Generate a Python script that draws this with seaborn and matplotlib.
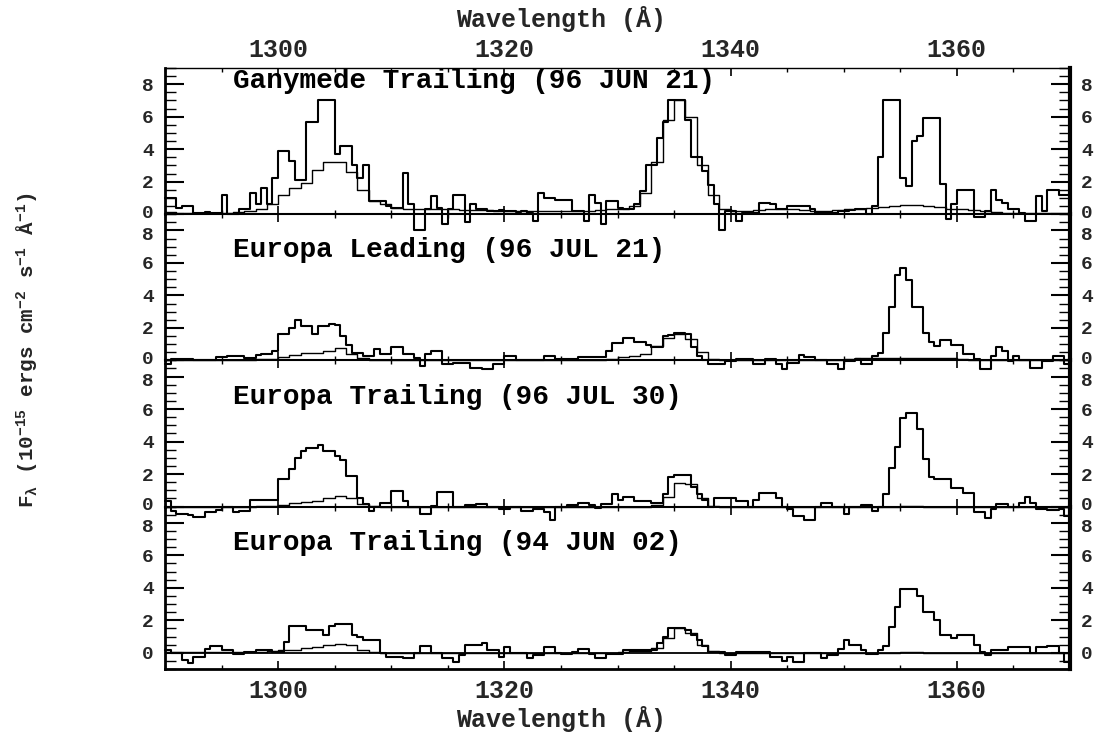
import numpy as np
import pandas as pd
import matplotlib
matplotlib.use("Agg")
import matplotlib.pyplot as plt
import matplotlib.transforms as mtransforms
from matplotlib.ticker import MultipleLocator, FixedLocator
import seaborn as sns

# ---------------- data ----------------
data_start = 1290.0     # first bin edge of observed spectra (Angstrom)
data_bin = 0.5          # bin width of observed spectra
model_start = 1290.0
model_bin = 1.0

panel_titles = [
    "Ganymede Trailing (96 JUN 21)",
    "Europa Leading (96 JUL 21)",
    "Europa Trailing (96 JUL 30)",
    "Europa Trailing (94 JUN 02)",
]

ganymede_trailing_96jun21 = [
    1.0, 1.0, 0.4, 0.5, 0.5, 0.1, 0.1, 0.15, 0.1, 0.1,
    1.2, 0.0, 0.0, 0.3, 0.3, 1.3, 0.6, 1.6, 0.65, 2.25,
    3.9, 3.9, 3.3, 2.1, 2.1, 5.7, 5.7, 7.05, 7.05, 7.05,
    3.7, 4.2, 4.2, 3.0, 2.25, 3.0, 0.8, 0.8, 0.8, 0.5,
    0.4, 0.4, 2.55, 0.6, -1.0, -1.0, 0.3, 1.1, 0.4, -0.6,
    0.3, 1.2, 1.2, -0.5, 0.6, 0.3, 0.3, 0.2, 0.2, 0.25,
    0.2, 0.2, 0.15, 0.2, 0.1, -0.4, 1.3, 1.0, 1.0, 0.9,
    0.9, 0.9, 0.2, 0.2, -0.4, 1.2, 0.7, -0.6, 0.8, 0.8,
    0.4, 0.3, 0.3, 0.6, 1.4, 3.0, 3.0, 4.7, 5.7, 7.0,
    7.05, 7.0, 5.8, 3.5, 3.5, 2.65, 1.8, 0.6, -1.0, 0.2,
    0.2, -0.4, 0.1, 0.1, 0.1, 0.7, 0.7, 0.6, 0.3, 0.3,
    0.5, 0.5, 0.5, 0.5, 0.3, 0.1, 0.1, 0.1, 0.1, 0.2,
    0.2, 0.25, 0.3, 0.3, 0.0, 0.5, 3.5, 7.05, 7.05, 7.05,
    2.25, 1.75, 4.5, 4.8, 5.9, 5.9, 5.9, 1.85, -0.3, 0.6,
    1.5, 1.5, 1.5, -0.2, -0.2, 0.2, 1.5, 0.9, 0.7, 0.3,
    0.3, 0.1, -0.4, -0.4, 1.1, 0.2, 1.5, 1.5, 1.2, 1.2,
]
ganymede_trailing_model = [
    0.15, 0.1, 0.1, 0.1, 0.1, 0.1, 0.15, 0.2, 0.3, 0.6,
    1.2, 1.6, 1.9, 2.7, 3.2, 3.2, 2.6, 1.5, 0.8, 0.6,
    0.4, 0.35, 0.3, 0.3, 0.3, 0.3, 0.25, 0.25, 0.25, 0.2,
    0.2, 0.2, 0.2, 0.2, 0.2, 0.2, 0.2, 0.2, 0.25, 0.3,
    0.3, 0.5, 1.3, 3.2, 5.8, 7.0, 6.0, 3.0, 1.2, 0.3,
    0.2, 0.2, 0.25, 0.3, 0.3, 0.3, 0.25, 0.2, 0.2, 0.25,
    0.3, 0.35, 0.4, 0.45, 0.5, 0.55, 0.55, 0.5, 0.45, 0.35,
    0.3, 0.25, 0.2, 0.15, 0.1, 0.05, 0.05, 0.05, 0.05, 0.05,
]

europa_leading_96jul21 = [
    -0.2, 0.1, 0.1, 0.1, 0.1, 0.05, 0.05, 0.05, 0.05, 0.2,
    0.2, 0.3, 0.3, 0.3, 0.15, 0.15, 0.35, 0.4, 0.4, 0.55,
    1.6, 1.6, 2.0, 2.5, 2.1, 2.1, 1.65, 2.1, 2.1, 2.25,
    2.2, 1.5, 0.95, 0.45, 0.45, 0.3, 0.3, 0.7, 0.4, 0.4,
    0.8, 0.8, 0.4, 0.4, 0.15, -0.35, 0.4, 0.55, 0.55, -0.25,
    -0.25, -0.15, -0.15, -0.15, -0.45, -0.45, -0.55, -0.55, -0.25, -0.25,
    0.25, 0.25, 0.0, 0.0, 0.0, 0.0, 0.0, 0.3, 0.3, 0.1,
    0.1, 0.1, 0.1, 0.2, 0.2, 0.2, 0.2, 0.2, 0.55, 1.05,
    1.05, 1.35, 1.35, 1.15, 1.15, 0.95, 0.85, 0.85, 1.5, 1.55,
    1.7, 1.7, 1.6, 0.85, 0.25, 0.0, -0.2, -0.2, -0.2, -0.05,
    -0.05, 0.1, 0.1, 0.1, -0.2, -0.2, 0.1, 0.1, -0.2, -0.55,
    -0.15, -0.15, 0.35, 0.2, 0.2, 0.0, 0.0, -0.2, -0.2, -0.55,
    -0.05, -0.05, 0.1, -0.25, -0.25, 0.25, 0.45, 1.7, 3.3, 5.25,
    5.7, 4.95, 3.3, 3.3, 1.7, 1.15, 0.9, 1.25, 1.25, 0.95,
    0.95, 0.4, 0.4, 0.1, -0.55, -0.55, 0.25, 0.85, 0.55, -0.05,
    0.25, 0.0, 0.0, -0.45, -0.45, -0.05, -0.05, 0.25, 0.25, -0.25,
]
europa_leading_model = [
    0.05, 0.05, 0.05, 0.05, 0.05, 0.05, 0.05, 0.05, 0.1, 0.1,
    0.2, 0.35, 0.45, 0.45, 0.6, 0.75, 0.4, 0.15, 0.05, 0.05,
    0.05, 0.05, 0.05, 0.05, 0.05, 0.05, 0.05, 0.05, 0.05, 0.05,
    0.05, 0.05, 0.05, 0.05, 0.05, 0.05, 0.05, 0.05, 0.05, 0.1,
    0.2, 0.3, 0.4, 0.9, 1.4, 1.6, 1.3, 0.5, 0.1, 0.05,
    0.05, 0.05, 0.05, 0.05, 0.05, 0.05, 0.05, 0.05, 0.05, 0.05,
    0.1, 0.15, 0.15, 0.15, 0.15, 0.15, 0.15, 0.15, 0.15, 0.15,
    0.1, 0.05, 0.0, 0.0, 0.0, 0.0, 0.0, 0.0, 0.0, 0.0,
]

europa_trailing_96jul30 = [
    0.35, -0.25, -0.45, -0.45, -0.5, -0.65, -0.65, -0.35, -0.35, -0.2,
    -0.05, -0.05, -0.35, -0.25, -0.25, 0.4, 0.4, 0.4, 0.4, 0.4,
    1.7, 1.7, 2.3, 3.0, 3.45, 3.6, 3.6, 3.8, 3.45, 3.45,
    3.1, 2.85, 1.9, 1.9, 0.55, 0.15, -0.25, -0.05, 0.2, 0.2,
    0.95, 0.95, 0.35, -0.05, -0.05, -0.45, -0.45, 0.05, 0.9, 0.9,
    0.9, -0.05, -0.05, 0.1, 0.1, 0.15, 0.15, -0.05, -0.05, -0.15,
    -0.15, -0.05, -0.05, -0.25, -0.25, -0.15, -0.15, -0.35, -0.85, -0.05,
    -0.05, 0.1, 0.1, 0.2, 0.2, 0.1, -0.1, 0.15, 0.15, 0.8,
    0.4, 0.6, 0.6, 0.35, 0.35, 0.35, 0.25, 0.25, 0.8, 1.8,
    1.95, 1.95, 1.95, 1.2, 0.75, 0.4, 0.0, 0.55, 0.55, 0.5,
    0.5, 0.35, 0.35, -0.05, 0.4, 0.85, 0.85, 0.85, 0.55, 0.0,
    -0.15, -0.55, -0.55, -0.85, -0.85, -0.05, 0.25, 0.25, 0.0, 0.0,
    -0.45, -0.05, -0.05, 0.1, 0.1, -0.25, 0.0, 0.75, 2.4, 3.65,
    5.45, 5.75, 5.75, 4.75, 2.9, 1.8, 1.7, 1.7, 1.7, 1.15,
    1.15, 0.85, 0.85, -0.35, -0.35, -0.7, -0.15, 0.15, 0.15, 0.0,
    0.0, 0.2, 0.6, 0.25, -0.15, -0.15, -0.2, -0.2, -0.15, -0.55,
]
europa_trailing_96_model = [
    0.0, 0.0, 0.0, 0.0, 0.0, 0.0, 0.0, 0.0, 0.02, 0.05,
    0.1, 0.25, 0.3, 0.35, 0.5, 0.65, 0.5, 0.15, 0.02, 0.0,
    0.0, 0.0, 0.0, 0.0, 0.0, 0.0, 0.0, 0.0, 0.0, 0.0,
    0.0, 0.0, 0.0, 0.0, 0.0, 0.0, 0.0, 0.0, 0.0, 0.0,
    0.0, 0.0, 0.0, 0.1, 0.6, 1.45, 1.4, 0.5, 0.05, 0.0,
    0.0, 0.0, 0.0, 0.0, 0.0, 0.0, 0.0, 0.0, 0.0, 0.0,
    0.0, 0.0, 0.0, 0.0, 0.0, 0.05, 0.05, 0.0, 0.0, 0.0,
    0.0, 0.0, 0.0, 0.0, 0.0, 0.0, 0.0, 0.0, 0.0, 0.0,
]

europa_trailing_94jun02 = [
    0.2, 0.0, 0.0, -0.45, -0.6, -0.25, -0.25, 0.25, 0.4, 0.4,
    0.15, 0.15, -0.1, -0.1, 0.05, 0.05, 0.15, 0.15, 0.15, 0.05,
    0.05, 0.65, 1.65, 1.65, 1.65, 1.4, 1.4, 1.4, 1.1, 1.65,
    1.8, 1.8, 1.8, 1.1, 0.95, 0.8, 0.8, 0.8, 0.0, -0.25,
    -0.25, -0.25, -0.35, -0.35, 0.0, 0.4, 0.4, 0.0, 0.0, -0.35,
    -0.35, -0.55, -0.15, 0.45, 0.45, 0.45, 0.6, 0.15, 0.15, -0.25,
    0.35, 0.0, 0.0, 0.0, -0.35, -0.15, -0.15, 0.35, 0.35, 0.0,
    -0.1, -0.1, 0.05, 0.25, 0.25, -0.1, -0.35, -0.35, -0.05, -0.05,
    -0.05, 0.15, 0.15, 0.15, 0.15, 0.15, 0.15, 0.6, 1.0, 1.55,
    1.55, 1.5, 1.4, 1.1, 0.8, 0.4, 0.05, 0.05, 0.05, -0.15,
    -0.15, 0.05, 0.05, 0.05, 0.05, 0.05, 0.05, -0.25, -0.25, -0.5,
    -0.25, -0.55, -0.55, 0.0, 0.0, 0.0, -0.3, -0.15, -0.15, 0.25,
    0.8, 0.45, 0.45, 0.15, -0.1, -0.1, 0.15, 0.4, 1.6, 2.8,
    3.9, 3.9, 3.9, 3.5, 2.5, 2.5, 2.0, 1.1, 1.1, 0.9,
    1.1, 1.1, 1.1, 0.45, 0.05, -0.15, 0.15, 0.15, 0.15, 0.35,
    0.35, 0.35, 0.35, 0.0, 0.35, 0.35, 0.4, 0.4, 0.0, -0.55,
]
europa_trailing_94_model = [
    0.05, 0.05, 0.05, 0.05, 0.05, 0.05, 0.05, 0.05, 0.05, 0.1,
    0.15, 0.2, 0.3, 0.35, 0.45, 0.55, 0.45, 0.2, 0.05, 0.0,
    0.0, 0.0, 0.0, 0.0, 0.0, 0.0, 0.0, 0.0, 0.0, 0.0,
    0.0, 0.0, 0.0, 0.0, 0.0, 0.0, 0.0, 0.0, 0.0, 0.0,
    0.05, 0.1, 0.1, 0.3, 0.9, 1.5, 1.2, 0.5, 0.1, 0.0,
    0.0, 0.0, 0.0, 0.0, 0.0, 0.0, 0.0, 0.0, 0.0, 0.0,
    0.0, 0.0, 0.0, 0.0, 0.0, 0.05, 0.05, 0.0, 0.0, 0.0,
    0.0, 0.0, 0.0, 0.0, 0.0, 0.0, 0.0, 0.0, 0.0, 0.0,
]

observed = [ganymede_trailing_96jun21, europa_leading_96jul21,
            europa_trailing_96jul30, europa_trailing_94jun02]
models = [ganymede_trailing_model, europa_leading_model,
          europa_trailing_96_model, europa_trailing_94_model]

x_major_ticks = [1300, 1320, 1340, 1360]
y_major_ticks = [0, 2, 4, 6, 8]

# ---------------- style ----------------
sns.set_style("white")
plt.rcParams["font.family"] = ["Liberation Mono", "DejaVu Sans"]
plt.rcParams["font.weight"] = "bold"
plt.rcParams["mathtext.fontset"] = "custom"
plt.rcParams["mathtext.rm"] = "Liberation Mono:bold"
plt.rcParams["mathtext.it"] = "Liberation Mono:bold"
plt.rcParams["mathtext.bf"] = "Liberation Mono:bold"
plt.rcParams["mathtext.fallback"] = "stixsans"


def step_frame(values, start, width):
    vals = np.asarray(values, dtype=float)
    edges = start + width * np.arange(len(vals) + 1)
    return pd.DataFrame({"wavelength": edges, "flux": np.append(vals, vals[-1])})


W, H = 1099, 733
fig = plt.figure(figsize=(W / 100, H / 100), dpi=100)
fig.patch.set_facecolor("white")

left_px, right_px, top_px, bottom_px = 165, 1070, 68, 669
panel_units = [9, 9, 9, 10]
ylims = [(0, 9), (0, 9), (0, 9), (-1, 9)]
title_y = [8.2, 6.8, 6.75, 6.75]
unit_px = (bottom_px - top_px) / sum(panel_units)

y_cursor = top_px
axes = []
for i in range(4):
    h = panel_units[i] * unit_px
    ax = fig.add_axes([left_px / W, 1 - (y_cursor + h) / H,
                       (right_px - left_px) / W, h / H])
    y_cursor += h
    ax.patch.set_visible(False)
    axes.append(ax)

for i, ax in enumerate(axes):
    dfo = step_frame(observed[i], data_start, data_bin)
    dfm = step_frame(models[i], model_start, model_bin)
    sns.lineplot(data=dfm, x="wavelength", y="flux", drawstyle="steps-post",
                 color="black", lw=1.0, estimator=None, sort=False, ax=ax,
                 clip_on=False)
    sns.lineplot(data=dfo, x="wavelength", y="flux", drawstyle="steps-post",
                 color="black", lw=1.5, estimator=None, sort=False, ax=ax,
                 clip_on=False)
    ax.set_xlim(1290, 1370)
    ax.set_ylim(*ylims[i])
    ax.set_xlabel("")
    ax.set_ylabel("")
    if i == 3:
        ax.axhline(0, color="black", lw=1.3)

    ax.xaxis.set_major_locator(FixedLocator(x_major_ticks))
    ax.xaxis.set_minor_locator(MultipleLocator(5))
    ax.yaxis.set_major_locator(FixedLocator(y_major_ticks))
    ax.yaxis.set_minor_locator(MultipleLocator(0.5))

    ax.tick_params(axis="x", which="both", direction="in", top=True, bottom=True,
                   labelbottom=(i == 3), labeltop=(i == 0), labelsize=18,
                   pad=4 if i == 0 else 7, color="black")
    ax.tick_params(axis="x", which="major", length=6, width=1.2)
    ax.tick_params(axis="x", which="minor", length=3, width=1.0)
    ax.tick_params(axis="y", which="both", direction="in", left=True, right=True,
                   labelleft=True, labelright=True, labelsize=14, pad=8,
                   color="black")
    ax.tick_params(axis="y", which="major", length=14, width=1.5)
    ax.tick_params(axis="y", which="minor", length=8, width=1.0)

    # nudge the crowded "0" (upper panel) and "8" (lower panel) labels apart
    for tick, val in zip(ax.yaxis.get_major_ticks(len(y_major_ticks)), y_major_ticks):
        dy = 0.0
        if val == 0 and i < 3:
            dy = 3.0
        elif val == 8 and i > 0:
            dy = -3.0
        if dy:
            off = mtransforms.ScaledTranslation(0, dy / 100, fig.dpi_scale_trans)
            tick.label1.set_transform(tick.label1.get_transform() + off)
            tick.label2.set_transform(tick.label2.get_transform() + off)

    for side in ["left", "right", "top", "bottom"]:
        ax.spines[side].set_color("black")
    ax.spines["left"].set_linewidth(2.0)
    ax.spines["right"].set_linewidth(3.0)
    ax.spines["top"].set_linewidth(1.0 if i == 0 else 0.0)
    ax.spines["bottom"].set_linewidth(2.0 if i == 3 else 1.5)

    ax.text(1296, title_y[i], panel_titles[i], fontsize=20, fontweight="bold",
            ha="left", va="center", color="black")

fig.text(561 / W, 1 - 19 / H, "Wavelength (Å)", ha="center", va="center",
         fontsize=18, fontweight="bold")
fig.text(561 / W, 1 - 719 / H, "Wavelength (Å)", ha="center", va="center",
         fontsize=18, fontweight="bold")
fig.text(28 / W, 1 - 350 / H,
         r"F$_\lambda$ (10$^{-15}$ ergs cm$^{-2}$ s$^{-1}$ Å$^{-1}$)",
         rotation=90, ha="center", va="center", fontsize=15, fontweight="bold")

fig.savefig("out.png", dpi=100, facecolor="white")
